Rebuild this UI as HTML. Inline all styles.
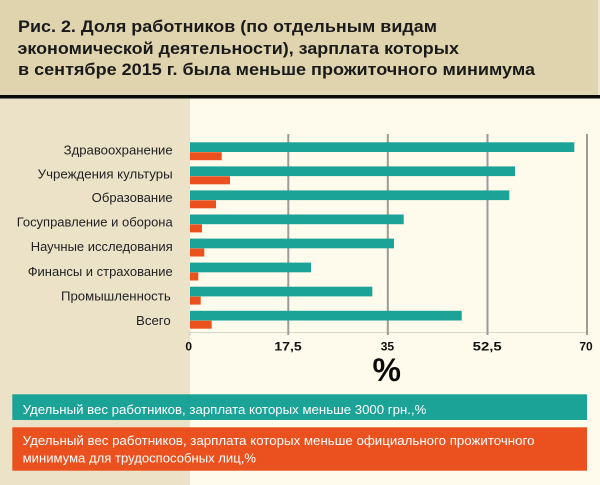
<!DOCTYPE html>
<html>
<head>
<meta charset="utf-8">
<style>
  html, body { margin:0; padding:0; background:#fefbec; }
  svg { display:block; }
  .t { font-family:"Liberation Sans","Noto Sans CJK SC",sans-serif; }
</style>
</head>
<body>
<svg width="600" height="485" viewBox="0 0 600 485" xmlns="http://www.w3.org/2000/svg">
  <!-- backgrounds -->
  <rect x="0" y="0" width="600" height="485" fill="#fefbec"/>
  <rect x="0" y="0" width="598" height="95" fill="#e0d4ae"/>
  <rect x="598" y="0" width="2" height="95" fill="#efe7cf"/>
  <rect x="0" y="95" width="600" height="3.5" fill="#0a0a0a"/>
  <rect x="0" y="98.5" width="190" height="386.5" fill="#ebe2c7"/>

  <!-- title -->
  <g class="t" font-weight="bold" font-size="17" fill="#1a1a1a">
    <text x="18" y="32" textLength="419" lengthAdjust="spacingAndGlyphs">Рис. 2. Доля работников (по отдельным видам</text>
    <text x="17.5" y="54" textLength="441.5" lengthAdjust="spacingAndGlyphs">экономической деятельности), зарплата которых</text>
    <text x="18" y="75" textLength="517" lengthAdjust="spacingAndGlyphs">в сентябре 2015 г. была меньше прожиточного минимума</text>
  </g>

  <!-- axis baseline -->
  <line x1="189" y1="332.5" x2="588" y2="332.5" stroke="#dcd8c8" stroke-width="1"/>

  <!-- gridlines -->
  <g stroke="#9c9b96" stroke-width="2">
    <line x1="288.3" y1="134" x2="288.3" y2="335"/>
    <line x1="387.8" y1="134" x2="387.8" y2="335"/>
    <line x1="487.5" y1="134" x2="487.5" y2="335"/>
    <line x1="587" y1="134" x2="587" y2="335"/>
  </g>
  <line x1="190" y1="332" x2="190" y2="336" stroke="#cfcabb" stroke-width="1"/>

  <!-- teal bars -->
  <g fill="#1ba398">
    <rect x="190" y="142.3" width="384.3" height="9.7"/>
    <rect x="190" y="166.4" width="325" height="9.7"/>
    <rect x="190" y="190.4" width="319.3" height="9.7"/>
    <rect x="190" y="214.5" width="213.7" height="9.7"/>
    <rect x="190" y="238.6" width="204" height="9.7"/>
    <rect x="190" y="262.6" width="121" height="9.7"/>
    <rect x="190" y="286.7" width="182.3" height="9.7"/>
    <rect x="190" y="310.8" width="271.7" height="9.7"/>
  </g>
  <!-- orange bars -->
  <g fill="#ea511e">
    <rect x="190" y="152.2" width="31.7" height="8"/>
    <rect x="190" y="176.3" width="40" height="8"/>
    <rect x="190" y="200.3" width="26" height="8"/>
    <rect x="190" y="224.4" width="12" height="8"/>
    <rect x="190" y="248.5" width="14.3" height="8"/>
    <rect x="190" y="272.5" width="8.3" height="8"/>
    <rect x="190" y="296.6" width="10.7" height="8"/>
    <rect x="190" y="320.7" width="21.7" height="8"/>
  </g>

  <!-- category labels -->
  <g class="t" font-size="13" fill="#222" text-anchor="end">
    <text x="172.7" y="154.3" textLength="109" lengthAdjust="spacingAndGlyphs">Здравоохранение</text>
    <text x="172.7" y="178.3" textLength="135" lengthAdjust="spacingAndGlyphs">Учреждения культуры</text>
    <text x="172.7" y="202" textLength="81" lengthAdjust="spacingAndGlyphs">Образование</text>
    <text x="172.7" y="226.7" textLength="156" lengthAdjust="spacingAndGlyphs">Госуправление и оборона</text>
    <text x="172.7" y="251" textLength="142" lengthAdjust="spacingAndGlyphs">Научные исследования</text>
    <text x="172.7" y="275.8" textLength="145" lengthAdjust="spacingAndGlyphs">Финансы и страхование</text>
    <text x="170.7" y="300.5" textLength="109.7" lengthAdjust="spacingAndGlyphs">Промышленность</text>
    <text x="170.7" y="324.8" textLength="34.7" lengthAdjust="spacingAndGlyphs">Всего</text>
  </g>

  <!-- tick labels -->
  <g class="t" font-size="12" font-weight="bold" fill="#111" text-anchor="middle">
    <text x="188.7" y="350.7">0</text>
    <text x="288" y="350.7" textLength="27.4" lengthAdjust="spacingAndGlyphs">17,5</text>
    <text x="387.4" y="350.7">35</text>
    <text x="487.2" y="350.7" textLength="29" lengthAdjust="spacingAndGlyphs">52,5</text>
    <text x="586" y="350.7">70</text>
  </g>
  <text class="t" x="386.7" y="381" font-size="32" font-weight="bold" fill="#0a0a0a" text-anchor="middle">%</text>

  <!-- legend -->
  <rect x="12.3" y="394.3" width="574.7" height="25.7" fill="#1ba398"/>
  <rect x="12.3" y="427.3" width="574.7" height="43.4" fill="#ea511e"/>
  <g class="t" font-size="13" fill="#ffffff">
    <text x="22.7" y="414" textLength="403.7" lengthAdjust="spacingAndGlyphs">Удельный вес работников, зарплата которых меньше 3000 грн.,%</text>
    <text x="22.7" y="445" textLength="511.8" lengthAdjust="spacingAndGlyphs">Удельный вес работников, зарплата которых меньше официального прожиточного</text>
    <text x="22.7" y="462.3" textLength="233.3" lengthAdjust="spacingAndGlyphs">минимума для трудоспособных лиц,%</text>
  </g>
</svg>
</body>
</html>
